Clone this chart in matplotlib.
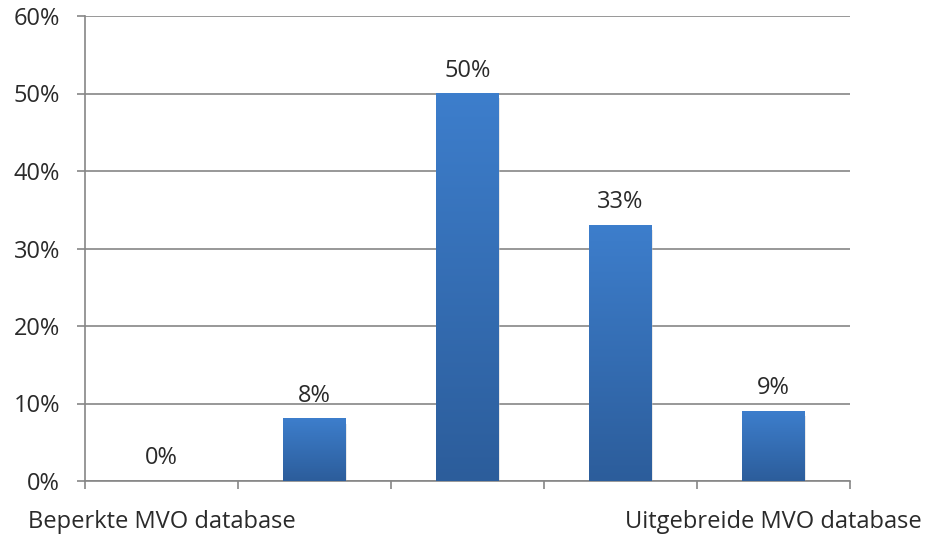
import matplotlib
matplotlib.use("Agg")
import matplotlib.pyplot as plt
import numpy as np
from matplotlib.colors import LinearSegmentedColormap

categories = ["Beperkte MVO database", "", "", "", "Uitgebreide MVO database"]
values = [0, 8, 50, 33, 9]
value_labels = ["0%", "8%", "50%", "33%", "9%"]
yticks = [0, 10, 20, 30, 40, 50, 60]
ytick_labels = ["0%", "10%", "20%", "30%", "40%", "50%", "60%"]

plt.rcParams['font.family'] = ['Open Sans', 'DejaVu Sans']
FS = 17
TXT = "#2a2a2a"

fig = plt.figure(figsize=(9.34, 5.35), dpi=100)
ax = fig.add_axes([85/934, 1-481/535, (850-85)/934, (481-16)/535])

x = np.arange(len(values))
width = 0.41
bars = ax.bar(x, values, width=width, color="none", edgecolor="none", zorder=3)

cmap = LinearSegmentedColormap.from_list("g", ["#2C5D9B", "#3D7ECC"])
grad = np.linspace(0, 1, 256).reshape(-1, 1)
for b in bars:
    h = b.get_height()
    if h <= 0:
        continue
    x0 = b.get_x()
    ax.bar(b.get_x() + b.get_width()/2 + 0.008, h - 0.3, width=width, bottom=-0.3,
           color="#c8c8c8", alpha=0.4, zorder=2.5, edgecolor="none")
    ax.imshow(grad, extent=[x0, x0 + b.get_width(), 0, h], origin="lower",
              aspect="auto", cmap=cmap, zorder=3)

for xi, v, lab in zip(x, values, value_labels):
    ax.text(xi, v + 1.4, lab, ha="center", va="bottom", fontsize=FS, color=TXT, zorder=4)

ax.set_xlim(-0.5, len(values) - 0.5)
ax.set_ylim(0, 60)
ax.set_yticks(yticks)
ax.set_yticklabels(ytick_labels, fontsize=FS, color=TXT)
ax.set_xticks(np.arange(-0.5, len(values), 1.0))
ax.set_xticklabels([])
ax.set_xticks(x, minor=True)
ax.set_xticklabels(categories, minor=True, fontsize=FS, color=TXT)
ax.tick_params(axis="x", which="minor", length=0, pad=21)
ax.tick_params(axis="x", which="major", length=6, color="#868686", width=1.2, direction="out")
ax.tick_params(axis="y", length=6, color="#868686", width=1.2, direction="out", pad=12)

ax.yaxis.grid(True, color="#868686", linewidth=1.2, zorder=0)
ax.set_axisbelow(True)
for s in ["top", "right"]:
    ax.spines[s].set_visible(False)
ax.spines["left"].set_color("#868686")
ax.spines["left"].set_linewidth(1.2)
ax.spines["bottom"].set_color("#868686")
ax.spines["bottom"].set_linewidth(1.2)

fig.savefig("out.png", dpi=100)
